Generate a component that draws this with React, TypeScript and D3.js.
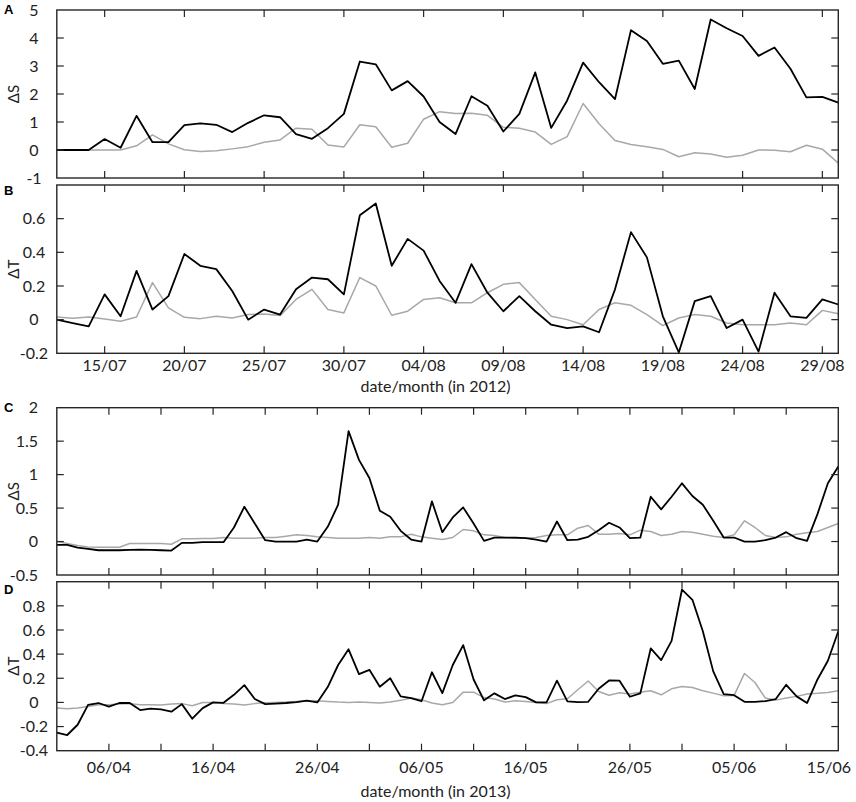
import React from "react";
import * as d3 from "d3";

// ---------- DATA ----------
// 2012: daily values from 12/07 to 30/08
const start2012 = "2012-07-12";
const end2012 = "2012-08-30";
const ticks2012 = ["2012-07-15", "2012-07-20", "2012-07-25", "2012-07-30", "2012-08-04", "2012-08-09", "2012-08-14", "2012-08-19", "2012-08-24", "2012-08-29"];
const tickLabels2012 = ["15/07", "20/07", "25/07", "30/07", "04/08", "09/08", "14/08", "19/08", "24/08", "29/08"];

const dS2012Black = [0, 0, 0, 0.39, 0.08, 1.22, 0.28, 0.28, 0.89, 0.95, 0.9, 0.64, 0.97, 1.24, 1.17, 0.57, 0.4, 0.78, 1.29, 3.16, 3.06, 2.13, 2.46, 1.91,
  1.0, 0.57, 1.92, 1.58, 0.66, 1.29, 2.77, 0.79, 1.77, 3.12, 2.42, 1.82, 4.28, 3.89, 3.08, 3.19, 2.18, 4.66, 4.35, 4.07, 3.36, 3.66, 2.9, 1.88, 1.9, 1.69];
const dS2012Gray = [0, 0, 0, 0, 0, 0.15, 0.54, 0.22, 0.01, -0.05, -0.03, 0.04, 0.12, 0.28, 0.36, 0.78, 0.74, 0.18, 0.11, 0.9, 0.83, 0.1, 0.24, 1.1,
  1.37, 1.3, 1.31, 1.24, 0.81, 0.78, 0.64, 0.2, 0.48, 1.66, 0.94, 0.34, 0.2, 0.12, 0.02, -0.24, -0.1, -0.14, -0.26, -0.19, 0, -0.01, -0.06, 0.17, 0.03, -0.47];
const dT2012Black = [0, -0.02, -0.04, 0.15, 0.02, 0.29, 0.06, 0.14, 0.39, 0.32, 0.3, 0.17, 0, 0.06, 0.03, 0.18, 0.25, 0.24, 0.15, 0.62, 0.69, 0.32, 0.48, 0.41,
  0.23, 0.1, 0.33, 0.16, 0.05, 0.14, 0.05, -0.03, -0.05, -0.04, -0.075, 0.18, 0.52, 0.37, 0.02, -0.195, 0.11, 0.14, -0.05, 0, -0.19, 0.16, 0.02, 0.01, 0.12, 0.09];
const dT2012Gray = [0.016, 0.008, 0.016, 0.004, -0.01, 0.016, 0.22, 0.07, 0.014, 0.006, 0.02, 0.01, 0.03, 0.034, 0.024, 0.12, 0.18, 0.06, 0.04, 0.25, 0.2, 0.026, 0.05, 0.12,
  0.13, 0.1, 0.1, 0.16, 0.21, 0.22, 0.12, 0.02, 0, -0.03, 0.06, 0.1, 0.085, 0.03, -0.035, 0.01, 0.03, 0.02, -0.02, -0.03, -0.03, -0.03, -0.02, -0.03, 0.055, 0.035];

// 2013: daily values from 01/04 to 15/06
const start2013 = "2013-04-01";
const end2013 = "2013-06-15";
const ticks2013 = ["2013-04-06", "2013-04-11", "2013-04-16", "2013-04-21", "2013-04-26", "2013-05-01", "2013-05-06", "2013-05-11", "2013-05-16", "2013-05-21", "2013-05-26", "2013-05-31", "2013-06-05", "2013-06-10", "2013-06-15"];
const tickLabels2013 = ["06/04", "", "16/04", "", "26/04", "", "06/05", "", "16/05", "", "26/05", "", "05/06", "", "15/06"];

const dS2013Black = [-0.05, -0.05, -0.09, -0.11, -0.13, -0.13, -0.13, -0.125, -0.12, -0.125, -0.13, -0.135, -0.02, -0.02, -0.01, -0.01, -0.01, 0.21, 0.52, 0.27, 0.02, 0, 0, 0, 0.03, 0, 0.22, 0.55, 1.65, 1.22, 0.95, 0.46, 0.37, 0.16, 0.03, 0,
  0.6, 0.14, 0.36, 0.51, 0.27, 0.01, 0.06, 0.06, 0.06, 0.05, 0.03, 0, 0.3, 0.02, 0.03, 0.07, 0.17, 0.28, 0.21, 0.05, 0.06, 0.67, 0.48, 0.67, 0.87, 0.68, 0.55, 0.31, 0.06, 0.06, 0, 0, 0.02, 0.06, 0.14, 0.05, 0.01, 0.41, 0.87, 1.12];
const dS2013Gray = [0, -0.03, -0.06, -0.08, -0.085, -0.085, -0.085, -0.03, -0.03, -0.03, -0.03, -0.04, 0.04, 0.04, 0.045, 0.045, 0.06, 0.05, 0.05, 0.05, 0.06, 0.06, 0.08, 0.1, 0.09, 0.07, 0.06, 0.05, 0.05, 0.05, 0.06, 0.05, 0.07, 0.07, 0.11, 0.07,
  0.05, 0.03, 0.06, 0.18, 0.16, 0.1, 0.09, 0.06, 0.05, 0.05, 0.06, 0.09, 0.1, 0.1, 0.2, 0.24, 0.11, 0.11, 0.12, 0.1, 0.17, 0.15, 0.09, 0.11, 0.15, 0.14, 0.11, 0.08, 0.06, 0.1, 0.31, 0.21, 0.09, 0.06, 0.07, 0.11, 0.13, 0.15, 0.21, 0.27];
const dT2013Black = [-0.25, -0.27, -0.185, -0.02, -0.005, -0.035, -0.005, -0.005, -0.063, -0.052, -0.058, -0.077, -0.014, -0.135, -0.047, 0, -0.003, 0.063, 0.143, 0.028, -0.014, -0.01, -0.005, 0.003, 0.015, 0, 0.127, 0.31, 0.44, 0.235, 0.27, 0.13, 0.2, 0.05, 0.036, 0.01,
  0.25, 0.077, 0.31, 0.475, 0.19, 0.017, 0.075, 0.028, 0.058, 0.044, 0, 0, 0.18, 0.008, 0.003, 0.005, 0.113, 0.182, 0.18, 0.047, 0.075, 0.447, 0.35, 0.51, 0.935, 0.85, 0.59, 0.257, 0.069, 0.06, 0.005, 0.005, 0.011, 0.028, 0.146, 0.05, -0.005, 0.19, 0.345, 0.59];
const dT2013Gray = [-0.047, -0.052, -0.047, -0.033, -0.02, -0.02, -0.014, -0.01, -0.02, -0.02, -0.022, -0.014, -0.01, -0.028, 0, 0, -0.01, -0.014, -0.022, -0.01, -0.003, 0, 0.003, 0.008, 0.011, 0.014, 0.008, 0.003, 0, 0.003, 0, -0.005, 0.003, 0.017, 0.036, 0.022,
  -0.005, -0.02, 0, 0.085, 0.085, 0.04, 0.028, 0.003, 0.014, 0.008, 0, -0.01, 0.022, 0.03, 0.105, 0.177, 0.09, 0.06, 0.08, 0.069, 0.085, 0.097, 0.063, 0.113, 0.132, 0.124, 0.097, 0.077, 0.055, 0.058, 0.24, 0.165, 0.036, 0.019, 0.036, 0.05, 0.069, 0.075, 0.083, 0.097];

const yLabelTicksA = [-1, 0, 1, 2, 3, 4, 5];
const yLabelTicksB = [-0.2, 0, 0.2, 0.4, 0.6];
const yLabelTicksC = [-0.5, 0, 0.5, 1, 1.5, 2];
const yLabelTicksD = [-0.4, -0.2, 0, 0.2, 0.4, 0.6, 0.8];

// ---------- LAYOUT ----------
const W = 856, H = 802;
const LEFT = 56.8, RIGHT = 838.3;
const FONT = "Lato, 'Open Sans', sans-serif";
const FS = 16;
const FRAME = "#262626";
const TICK_LEN = 7;

const parse = d3.utcParse("%Y-%m-%d");

type PanelCfg = {
  letter: string; top: number; bottom: number; domain: [number, number];
  labels: number[]; yTitle: string; black: number[]; gray: number[];
  start: string; end: string; ticks: string[]; tickLabels: string[]; showX: boolean;
  xTitle?: string; labelAnchor: "middle" | "end"; labelX: number; letterY: number;
  tickLabelDy?: number; titleDy?: number;
};

const panels: PanelCfg[] = [
  { letter: "A", top: 10, bottom: 178, domain: [-1, 5], labels: yLabelTicksA, yTitle: "ΔS", black: dS2012Black, gray: dS2012Gray,
    start: start2012, end: end2012, ticks: ticks2012, tickLabels: tickLabels2012, showX: false, labelAnchor: "middle", labelX: 34, letterY: 14 },
  { letter: "B", top: 185, bottom: 353.3, domain: [-0.2, 0.8], labels: yLabelTicksB, yTitle: "ΔT", black: dT2012Black, gray: dT2012Gray,
    start: start2012, end: end2012, ticks: ticks2012, tickLabels: tickLabels2012, showX: true, xTitle: "date/month (in 2012)", labelAnchor: "middle", labelX: 34, letterY: 195,
    tickLabelDy: 17.6, titleDy: 39 },
  { letter: "C", top: 407.7, bottom: 575, domain: [-0.5, 2], labels: yLabelTicksC, yTitle: "ΔS", black: dS2013Black, gray: dS2013Gray,
    start: start2013, end: end2013, ticks: ticks2013, tickLabels: tickLabels2013, showX: false, labelAnchor: "end", labelX: 38, letterY: 412 },
  { letter: "D", top: 581.7, bottom: 750.7, domain: [-0.4, 1.0], labels: yLabelTicksD, yTitle: "ΔT", black: dT2013Black, gray: dT2013Gray,
    start: start2013, end: end2013, ticks: ticks2013, tickLabels: tickLabels2013, showX: true, xTitle: "date/month (in 2013)", labelAnchor: "middle", labelX: 34, letterY: 594,
    tickLabelDy: 22.6, titleDy: 46.5 },
];

const fmt = (v: number) => {
  const r = Math.round(v * 100) / 100;
  return r === 0 ? "0" : String(r);
};

function Panel({ p }: { p: PanelCfg }) {
  const s = parse(p.start)!, e = parse(p.end)!;
  const x = d3.scaleUtc().domain([s, e]).range([LEFT, RIGHT]);
  const y = d3.scaleLinear().domain(p.domain).range([p.bottom, p.top]);
  const line = d3.line<number>()
    .x((_, i) => x(d3.utcDay.offset(s, i)))
    .y((d) => y(d));
  const step = p.labels[1] - p.labels[0];
  const interior = d3.range(0, 20).map((k) => p.domain[0] + k * step).filter((v) => v > p.domain[0] + 1e-9 && v < p.domain[1] - 1e-9);
  const tickDates = p.ticks.map((t) => parse(t)!);
  return (
    <g>
      <path d={line(p.gray) || ""} fill="none" stroke="#a8a8a8" strokeWidth={1.5} strokeLinejoin="round" />
      <path d={line(p.black) || ""} fill="none" stroke="#000" strokeWidth={1.8} strokeLinejoin="round" />
      {tickDates.map((t, i) => {
        const xx = x(t);
        if (xx > RIGHT - 1) return null;
        return (
          <g key={i}>
            <line x1={xx} x2={xx} y1={p.top} y2={p.top + TICK_LEN} stroke={FRAME} strokeWidth={1.2} />
            <line x1={xx} x2={xx} y1={p.bottom} y2={p.bottom - TICK_LEN} stroke={FRAME} strokeWidth={1.2} />
          </g>
        );
      })}
      {interior.map((v, i) => (
        <g key={i}>
          <line x1={LEFT} x2={LEFT + TICK_LEN} y1={y(v)} y2={y(v)} stroke={FRAME} strokeWidth={1.2} />
          <line x1={RIGHT} x2={RIGHT - TICK_LEN} y1={y(v)} y2={y(v)} stroke={FRAME} strokeWidth={1.2} />
        </g>
      ))}
      <rect x={LEFT} y={p.top} width={RIGHT - LEFT} height={p.bottom - p.top} fill="none" stroke={FRAME} strokeWidth={1.4} />
      {p.labels.map((v, i) => (
        <text key={i} x={p.labelX} y={y(v)} dy="0.36em" textAnchor={p.labelAnchor} fontFamily={FONT} fontSize={FS} fill="#222">{fmt(v)}</text>
      ))}
      <text transform={`translate(19,${(p.top + p.bottom) / 2}) rotate(-90)`} textAnchor="middle" fontFamily={FONT} fontSize={15} fill="#222">{p.yTitle}</text>
      <text x={4} y={p.letterY} fontFamily="'Liberation Sans', Arial, sans-serif" fontWeight="bold" fontSize={13} fill="#000">{p.letter}</text>
      {p.showX && tickDates.map((t, i) => {
        if (!p.tickLabels[i]) return null;
        const xx = x(t);
        const atEdge = xx > RIGHT - 1;
        return (
          <text key={i} x={atEdge ? W - 5 : xx} y={p.bottom + (p.tickLabelDy || 17)} textAnchor={atEdge ? "end" : "middle"} fontFamily={FONT} fontSize={FS} fill="#222">{p.tickLabels[i]}</text>
        );
      })}
      {p.showX && p.xTitle && (
        <text x={435.5} y={p.bottom + (p.titleDy || 31)} textAnchor="middle" fontFamily={FONT} fontSize={FS} fill="#222">{p.xTitle}</text>
      )}
    </g>
  );
}

export default function App() {
  return (
    <svg width={W} height={H} viewBox={`0 0 ${W} ${H}`} style={{ position: "absolute", left: 0, top: 0, background: "#fff" }}>
      <rect width={W} height={H} fill="#fff" />
      {panels.map((p) => <Panel key={p.letter} p={p} />)}
    </svg>
  );
}
